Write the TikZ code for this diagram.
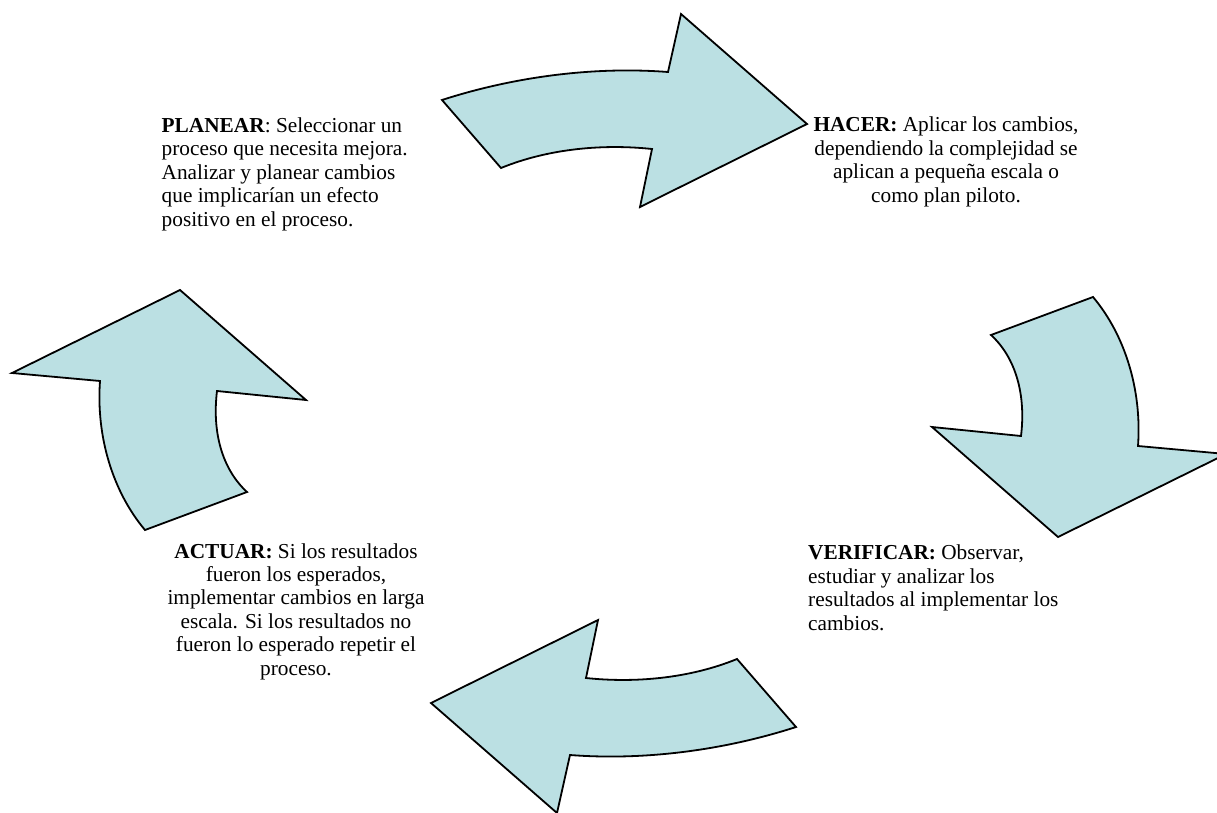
\documentclass[tikz,border=0pt]{standalone}
\usepackage{fontspec}
\setmainfont{Liberation Serif}
\definecolor{cyclefill}{RGB}{187,224,227}
\begin{document}
\begin{tikzpicture}[x=1pt,y=-1pt,
  cyclearrow/.style={fill=cyclefill,draw=black,line width=1.8pt,line join=miter},
  steptext/.style={font=\fontsize{21.3}{23.4}\selectfont,inner sep=0pt}]
\useasboundingbox (0,0) rectangle (1217,813);

% top arrow: plan -> do
\draw[cyclearrow] (442,100) .. controls (510,78) and (590,66) .. (668,72)
  -- (681,14) -- (807,124) -- (640,207) -- (652,149)
  .. controls (605,144) and (550,148) .. (501,168) -- cycle;

% right arrow: do -> check
\draw[cyclearrow] (991,335) -- (1093,297)
  .. controls (1125,335) and (1142,390) .. (1138,446)
  -- (1226,454) -- (1058,537) -- (932,427) -- (1021,436)
  .. controls (1026,395) and (1016,358) .. (991,335) -- cycle;

% bottom arrow: check -> act
\draw[cyclearrow] (796,727) .. controls (728,749) and (648,761) .. (570,755)
  -- (557,813) -- (431,703) -- (598,620) -- (586,678)
  .. controls (633,683) and (688,679) .. (737,659) -- cycle;

% left arrow: act -> plan
\draw[cyclearrow] (247,492) -- (145,530)
  .. controls (113,492) and (96,437) .. (100,381)
  -- (12,373) -- (180,290) -- (306,400) -- (217,391)
  .. controls (212,432) and (222,469) .. (247,492) -- cycle;

% text blocks, placed by the baseline of their last line
\node[steptext,align=left,anchor=base west] (planear) at (161.5,226)
  {\textbf{PLANEAR}: Seleccionar un\\proceso que necesita mejora.\\Analizar y planear cambios\\que implicarían un efecto\\positivo en el proceso.};

\node[steptext,align=center,anchor=base] (hacer) at (946,202)
  {\textbf{HACER:} Aplicar los cambios,\\dependiendo la complejidad se\\aplican a pequeña escala o\\como plan piloto.};

\node[steptext,align=left,anchor=base west] (verificar) at (808,630)
  {\textbf{VERIFICAR:} Observar,\\estudiar y analizar los\\resultados al implementar los\\cambios.};

\node[steptext,align=center,anchor=base] (actuar) at (296,675)
  {\textbf{ACTUAR:} Si los resultados\\fueron los esperados,\\implementar cambios en larga\\escala. Si los resultados no\\fueron lo esperado repetir el\\proceso.};
\end{tikzpicture}
\end{document}
